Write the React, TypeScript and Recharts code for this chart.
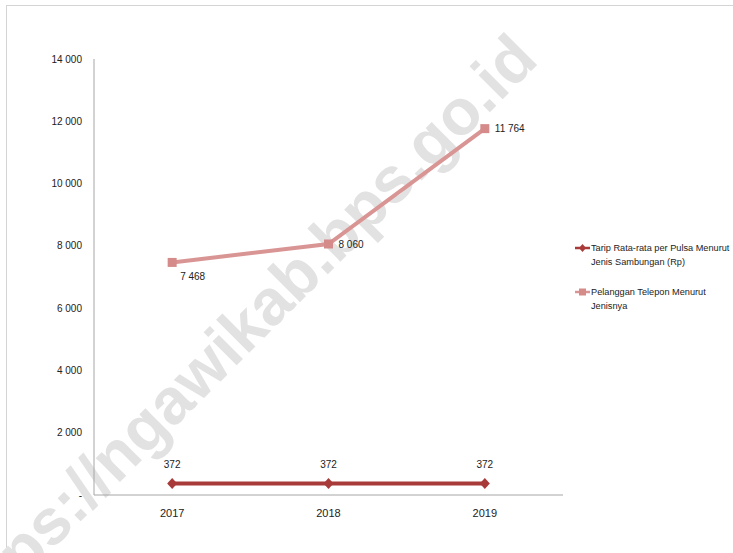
import React from "react";
import { LineChart, Line, XAxis, YAxis, LabelList } from "recharts";

// values
const YEARS = ["2017", "2018", "2019"];
const TARIP = [372, 372, 372];
const PELANGGAN = [7468, 8060, 11764];
const Y_TICKS = [0, 2000, 4000, 6000, 8000, 10000, 12000, 14000];
const SERIES_NAMES = [
  "Tarip Rata-rata per Pulsa Menurut Jenis Sambungan (Rp)",
  "Pelanggan Telepon Menurut Jenisnya",
];
const LEGEND_LINES = [
  ["Tarip Rata-rata per Pulsa Menurut", "Jenis Sambungan (Rp)"],
  ["Pelanggan Telepon Menurut", "Jenisnya"],
];

const data = YEARS.map((year, i) => ({
  year,
  tarip: TARIP[i],
  pelanggan: PELANGGAN[i],
}));

const DARK = "#A83B39";
const ROSE = "#D99594";
const FONT = "'Liberation Sans', Arial, sans-serif";

const fmt = (v: number) =>
  v === 0 ? "-" : String(v).replace(/\B(?=(\d{3})+(?!\d))/g, " ");

const Diamond = ({ cx, cy }: any) => (
  <polygon
    points={`${cx},${cy - 5.5} ${cx + 5},${cy} ${cx},${cy + 5.5} ${cx - 5},${cy}`}
    fill={DARK}
  />
);

const Square = ({ cx, cy }: any) => (
  <rect x={cx - 4.5} y={cy - 4.5} width={9} height={9} fill="#D48B8A" />
);

const TaripLabel = ({ x, y, value }: any) => (
  <text x={x} y={y - 18} textAnchor="middle" dominantBaseline="middle" fontSize={10} fontFamily={FONT} fill="#222">
    {fmt(value)}
  </text>
);

const PelangganLabel = ({ x, y, value, index }: any) => {
  const below = index === 0;
  return (
    <text
      x={below ? x + 8 : x + 10}
      y={below ? y + 15 : y + 1}
      textAnchor="start"
      dominantBaseline="middle"
      fontSize={10}
      fontFamily={FONT}
      fill="#222"
    >
      {fmt(value)}
    </text>
  );
};

export default function App() {
  return (
    <div style={{ position: "absolute", left: 0, top: 0, width: 733, height: 553, overflow: "hidden", background: "#fff" }}>
      <div style={{ position: "absolute", left: 6, top: 5, width: 800, height: 800, border: "1px solid #D4D4D4" }} />
      <svg width={733} height={553} style={{ position: "absolute", left: 0, top: 0 }}>
        <text
          x={540}
          y={62}
          textAnchor="end"
          transform="rotate(-45 540 62)"
          fontSize={64.5}
          fontWeight="bold"
          fontFamily={FONT}
          fill="#E2E2E2"
        >
          https://ngawikab.bps.go.id
        </text>
      </svg>
      <div style={{ position: "absolute", left: 0, top: 0 }}>
        <LineChart width={733} height={553} data={data} margin={{ top: 59, right: 170, bottom: 28, left: 0 }}>
          <XAxis
            dataKey="year"
            scale="band"
            tickLine={false}
            tickMargin={8}
            stroke="#A6A6A6"
            tick={{ fill: "#222", fontSize: 11, fontFamily: FONT }}
          />
          <YAxis
            width={94}
            domain={[0, 14000]}
            ticks={Y_TICKS}
            interval={0}
            tickFormatter={fmt}
            tickLine={false}
            tickMargin={6}
            stroke="#A6A6A6"
            tick={{ fill: "#222", fontSize: 10, fontFamily: FONT }}
          />
          <Line
            name={SERIES_NAMES[0]}
            dataKey="tarip"
            stroke={DARK}
            strokeWidth={4}
            dot={<Diamond />}
            isAnimationActive={false}
          >
            <LabelList dataKey="tarip" content={<TaripLabel />} />
          </Line>
          <Line
            name={SERIES_NAMES[1]}
            dataKey="pelanggan"
            stroke={ROSE}
            strokeWidth={4}
            dot={<Square />}
            isAnimationActive={false}
          >
            <LabelList dataKey="pelanggan" content={<PelangganLabel />} />
          </Line>
        </LineChart>
      </div>
      <div style={{ position: "absolute", left: 574, top: 241, fontFamily: FONT, fontSize: 9.2, color: "#222", lineHeight: "14px" }}>
        {LEGEND_LINES.map((lines, i) => (
          <div key={i} style={{ position: "relative", paddingLeft: 17, marginBottom: 16 }}>
            <svg width={17} height={14} style={{ position: "absolute", left: 0, top: 0 }}>
              <line x1={1} y1={7} x2={16} y2={7} stroke={i === 0 ? DARK : ROSE} strokeWidth={2.5} />
              {i === 0 ? (
                <polygon points="8.5,3 12,7 8.5,11 5,7" fill={DARK} />
              ) : (
                <rect x={5} y={3.5} width={7} height={7} fill="#D48B8A" />
              )}
            </svg>
            {lines.map((t, j) => (
              <div key={j} style={{ whiteSpace: "nowrap" }}>{t}</div>
            ))}
          </div>
        ))}
      </div>
    </div>
  );
}
